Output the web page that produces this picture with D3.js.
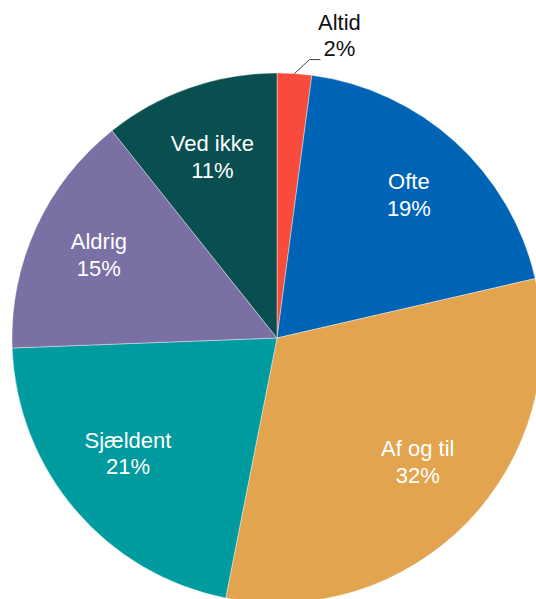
<!DOCTYPE html>
<html>
<head>
<meta charset="utf-8">
<script src="https://cdn.jsdelivr.net/npm/d3@7"></script>
<style>
  html, body { margin: 0; padding: 0; background: #fff; }
  svg { display: block; }
</style>
</head>
<body>
<svg id="chart" width="536" height="599"></svg>
<script>
const categories = ["Altid", "Ofte", "Af og til", "Sjældent", "Aldrig", "Ved ikke"];
const values = [2.1, 19.3, 31.7, 21.3, 14.9, 10.7];
const labels = ["2%", "19%", "32%", "21%", "15%", "11%"];
const colors = ["#F94B3C", "#0064B6", "#E2A44E", "#009B9F", "#7A70A4", "#0A4F50"];

const svg = d3.select("#chart");
const cx = 277, cy = 338, R = 265;
const labelRx = 196, labelRy = 186;
const g = svg.append("g").attr("transform", `translate(${cx},${cy})`);

const data = categories.map((c, i) => ({ cat: c, value: values[i], label: labels[i], color: colors[i] }));
const pie = d3.pie().value(d => d.value).sort(null);
const arcs = pie(data);
const arc = d3.arc().innerRadius(0).outerRadius(R);

g.selectAll("path.slice").data(arcs).enter().append("path")
  .attr("class", "slice")
  .attr("d", arc)
  .attr("fill", d => d.data.color)
  .attr("stroke", "#fff")
  .attr("stroke-width", 0.4);

const font = "'Liberation Sans', Arial, sans-serif";

// inside labels
arcs.slice(1).forEach(d => {
  const a = (d.startAngle + d.endAngle) / 2;
  const x = labelRx * Math.sin(a);
  const y = -labelRy * Math.cos(a);
  const t = g.append("text")
    .attr("text-anchor", "middle")
    .attr("font-family", font)
    .attr("font-size", 22)
    .attr("fill", "#fff");
  t.append("tspan").attr("x", x).attr("y", y - 11).text(d.data.cat);
  t.append("tspan").attr("x", x).attr("y", y + 15.5).text(d.data.label);
});

// outside label for first slice with leader line
const a0 = arcs[0];
const mid = (a0.startAngle + a0.endAngle) / 2;
const p0 = [R * Math.sin(mid), -R * Math.cos(mid)];
const p1 = [p0[0] + 15, p0[1] - 14];
const p2 = [p1[0] + 11, p1[1]];
g.append("polyline")
  .attr("points", [p0, p1, p2].map(p => p.join(",")).join(" "))
  .attr("fill", "none")
  .attr("stroke", "#404040")
  .attr("stroke-width", 1);
const lx = p2[0] + 19;
const t0 = g.append("text")
  .attr("text-anchor", "middle")
  .attr("font-family", font)
  .attr("font-size", 22)
  .attr("fill", "#111");
t0.append("tspan").attr("x", lx).attr("y", p2[1] - 30).text(a0.data.cat);
t0.append("tspan").attr("x", lx).attr("y", p2[1] - 4).text(a0.data.label);
</script>
</body>
</html>
